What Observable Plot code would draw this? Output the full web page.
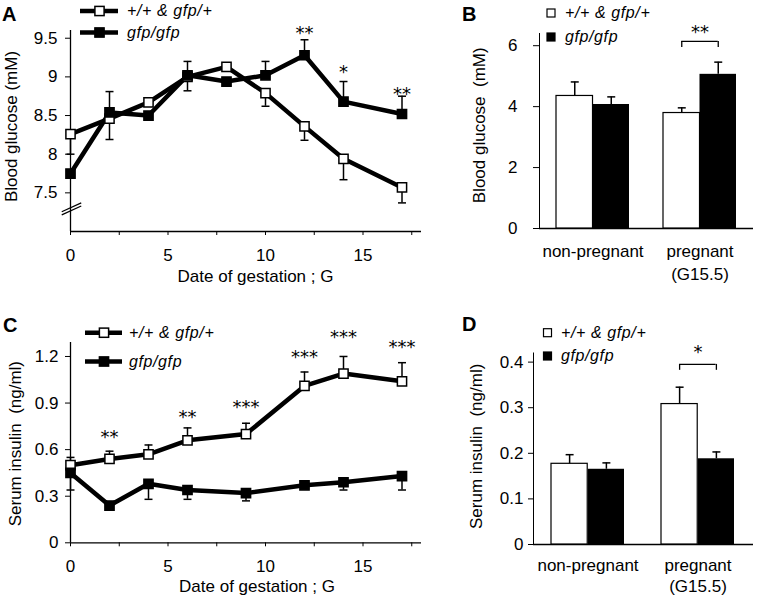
<!DOCTYPE html>
<html><head><meta charset="utf-8">
<script src="https://cdn.jsdelivr.net/npm/d3@7"></script>
<script src="https://cdn.jsdelivr.net/npm/@observablehq/plot@0.6"></script>
<style>
html,body{margin:0;padding:0;background:#fff;}
#fig{position:relative;width:758px;height:599px;overflow:hidden;background:#fff;}
.panel{position:absolute;}
#overlay{position:absolute;left:0;top:0;pointer-events:none;}
</style></head><body><div id="fig"></div>
<script>
// ---------- data ----------
const legendLabels = ["+/+ & gfp/+", "gfp/gfp"];
const panelLetters = ["A", "B", "C", "D"];

// Panel A: blood glucose (mM) over gestation
const glucoseDays = [0, 2, 4, 6, 8, 10, 12, 14, 17];
const glucoseWt = [8.26, 8.46, 8.67, 9.00, 9.13, 8.79, 8.36, 7.94, 7.57];
const glucoseWtErr = [0.26, 0.27, 0.04, 0.18, 0.03, 0.17, 0.18, 0.27, 0.20];   // drawn downward
const glucoseKo = [7.75, 8.54, 8.50, 9.02, 8.94, 9.02, 9.28, 8.68, 8.52];
const glucoseKoErr = [0.04, 0.27, 0.04, 0.18, 0.04, 0.18, 0.20, 0.26, 0.23];   // drawn upward
const glucoseStarDays = [12, 14, 17];
const glucoseStarLevels = [9.62, 9.12, 8.84];
const glucoseStarLabels = ["**", "*", "**"];
const glucoseTicks = [7.5, 8, 8.5, 9, 9.5];
const glucoseBreak = [
  {x1: -0.45, y1: 7.255, x2: 0.55, y2: 7.37},
  {x1: -0.45, y1: 7.215, x2: 0.55, y2: 7.33}
];

// Panel C: serum insulin (ng/ml) over gestation
const insulinDays = [0, 2, 4, 6, 9, 12, 14, 17];
const insulinWt = [0.50, 0.54, 0.57, 0.66, 0.70, 1.01, 1.09, 1.04];
const insulinWtErr = [0.05, 0.05, 0.06, 0.08, 0.07, 0.09, 0.11, 0.12];          // drawn upward
const insulinKo = [0.45, 0.24, 0.38, 0.34, 0.32, 0.37, 0.39, 0.43];
const insulinKoErr = [0.11, 0.00, 0.10, 0.06, 0.05, 0.02, 0.05, 0.09];          // drawn downward
const insulinStarDays = [2, 6, 9, 12, 14, 17];
const insulinStarLevels = [0.711, 0.84, 0.904, 1.226, 1.354, 1.29];
const insulinStarLabels = ["**", "**", "***", "***", "***", "***"];
const insulinTicks = [0, 0.3, 0.6, 0.9, 1.2];

const dayTicks = [0, 2.5, 5, 7.5, 10, 12.5, 15, 17.5];

// Panels B and D: groups
const groups = ["non-pregnant", "pregnant"];
const groupLine1 = ["non-pregnant", "pregnant"];
const groupLine2 = ["", "(G15.5)"];

const bgWt = [4.35, 3.79];
const bgWtErr = [0.46, 0.17];
const bgKo = [4.07, 5.06];
const bgKoErr = [0.25, 0.40];
const bgTicks = [0, 2, 4, 6];
const bgBracket = {group: "pregnant", top: 6.14, foot: 5.94, star: 6.6, label: "**"};

const insWt = [0.177, 0.308];
const insWtErr = [0.020, 0.037];
const insKo = [0.165, 0.188];
const insKoErr = [0.014, 0.015];
const insTicks = [0, 0.1, 0.2, 0.3, 0.4];
const insBracket = {group: "pregnant", top: 0.395, foot: 0.382, star: 0.431, label: "*"};

// ---------- drawing ----------
const FONT = "'Liberation Sans', Arial, Helvetica, sans-serif";
const STAR_FONT = "'DejaVu Sans', 'Liberation Sans', sans-serif";
const capSymbol = {draw(ctx, size) { const w = Math.sqrt(size) / 2; ctx.moveTo(-w, 0); ctx.lineTo(w, 0); }};
const baseStyle = {fontFamily: FONT, fontSize: "17px", color: "black", background: "transparent", overflow: "visible"};

function linePanel(o) {
  const wtRows = o.days.map((d, i) => ({x: d, y: o.wt[i], e: o.wt[i] + o.wtDir * o.wtErr[i]}));
  const koRows = o.days.map((d, i) => ({x: d, y: o.ko[i], e: o.ko[i] + o.koDir * o.koErr[i]}));
  const errRows = [...wtRows, ...koRows].filter(r => Math.abs(r.e - r.y) > 1e-9);
  const [mt, mr, mb, ml] = o.margin;
  return Plot.plot({
    width: o.width, height: o.height,
    marginTop: mt, marginRight: mr, marginBottom: mb, marginLeft: ml,
    style: baseStyle,
    x: {domain: o.xDomain, ticks: dayTicks, tickSize: 4, tickPadding: 13,
        tickFormat: d => (d % 5 === 0 ? String(d) : ""), label: null},
    y: {domain: o.yDomain, ticks: o.yTicks, tickSize: 5, tickPadding: o.yTickPadding,
        tickFormat: d => String(d), label: null},
    marks: [
      Plot.ruleX([o.xDomain[0]], {strokeWidth: 1.3}),
      Plot.ruleY([o.yDomain[0]], {strokeWidth: 1.3}),
      o.breaks ? Plot.link(o.breaks, {x1: "x1", y1: "y1", x2: "x2", y2: "y2", strokeWidth: 1.2}) : null,
      Plot.ruleX(errRows, {x: "x", y1: "y", y2: "e", strokeWidth: 1.5}),
      Plot.dot(errRows, {x: "x", y: "e", symbol: capSymbol, r: 4.5, stroke: "black", strokeWidth: 1.5, fill: "none"}),
      Plot.line(wtRows, {x: "x", y: "y", stroke: "black", strokeWidth: 4.5}),
      Plot.line(koRows, {x: "x", y: "y", stroke: "black", strokeWidth: 4.5}),
      Plot.dot(wtRows, {x: "x", y: "y", symbol: "square", r: 5.2, fill: "white", stroke: "black", strokeWidth: 1.5}),
      Plot.dot(koRows, {x: "x", y: "y", symbol: "square", r: 5.2, fill: "black", stroke: "black", strokeWidth: 1.5}),
      Plot.text(o.starLabels, {x: o.starDays, y: o.starLevels, text: o.starLabels,
        fontFamily: STAR_FONT, fontSize: 18, dy: 4.6, fill: "black"}),
      Plot.text([o.yLabel], {frameAnchor: "left", textAnchor: "middle", lineAnchor: "middle",
        rotate: -90, dx: o.yLabelDx, dy: o.yLabelDy, fontSize: 17}),
      Plot.text([o.xLabel], {frameAnchor: "bottom", textAnchor: "middle", lineAnchor: "middle",
        dx: o.xLabelDx, dy: o.xLabelDy, fontSize: 17})
    ]
  });
}

function barPanel(o) {
  const [mt, mr, mb, ml] = o.margin;
  const n = o.groups.length;
  const frameW = o.width - ml - mr;
  const step = frameW / (n - o.pInner + 2 * o.pOuter);
  const bw = step * (1 - o.pInner);
  const q = bw / 4;
  const wtRows = o.groups.map((g, i) => ({g, v: o.wt[i], e: o.wt[i] + o.wtErr[i]}));
  const koRows = o.groups.map((g, i) => ({g, v: o.ko[i], e: o.ko[i] + o.koErr[i]}));
  const br = [o.bracket];
  return Plot.plot({
    width: o.width, height: o.height,
    marginTop: mt, marginRight: mr, marginBottom: mb, marginLeft: ml,
    style: baseStyle,
    x: {type: "band", domain: o.groups, paddingInner: o.pInner, paddingOuter: o.pOuter, axis: null},
    y: {domain: o.yDomain, ticks: o.yTicks, tickSize: o.yTickSize, tickPadding: o.yTickPadding,
        tickFormat: d => String(d), label: null, line: true},
    marks: [
      Plot.ruleY([0], {strokeWidth: 1.3}),
      Plot.barY(wtRows, {x: "g", y: "v", fill: "white", stroke: "black", strokeWidth: 1.2, insetRight: bw / 2}),
      Plot.barY(koRows, {x: "g", y: "v", fill: "black", insetLeft: bw / 2}),
      Plot.ruleX(wtRows, {x: "g", y1: "v", y2: "e", dx: -q, strokeWidth: 1.5}),
      Plot.ruleX(koRows, {x: "g", y1: "v", y2: "e", dx: q, strokeWidth: 1.5}),
      Plot.dot(wtRows, {x: "g", y: "e", dx: -q, symbol: capSymbol, r: 4.5, stroke: "black", strokeWidth: 1.5, fill: "none"}),
      Plot.dot(koRows, {x: "g", y: "e", dx: q, symbol: capSymbol, r: 4.5, stroke: "black", strokeWidth: 1.5, fill: "none"}),
      Plot.ruleY(br, {x1: "group", x2: "group", y: "top", insetLeft: q, insetRight: q, strokeWidth: 1.3}),
      Plot.ruleX(br, {x: "group", y1: "foot", y2: "top", dx: -q, strokeWidth: 1.3}),
      Plot.ruleX(br, {x: "group", y1: "foot", y2: "top", dx: q, strokeWidth: 1.3}),
      Plot.text(br, {x: "group", y: "star", text: "label", fontFamily: STAR_FONT, fontSize: 18, dy: 4.6, fill: "black"}),
      Plot.text(o.groups, {x: o.groups, text: groupLine1, frameAnchor: "bottom", textAnchor: "middle", lineAnchor: "top", dy: o.catDy1, fontSize: 17}),
      Plot.text(o.groups, {x: o.groups, text: groupLine2, frameAnchor: "bottom", textAnchor: "middle", lineAnchor: "top", dy: o.catDy2, fontSize: 17}),
      Plot.text([o.yLabel], {frameAnchor: "left", textAnchor: "middle", lineAnchor: "middle",
        rotate: -90, dx: o.yLabelDx, dy: o.yLabelDy, fontSize: 17})
    ]
  });
}

const fig = document.getElementById("fig");
function place(node, left, top) {
  const d = document.createElement("div");
  d.className = "panel"; d.style.left = left + "px"; d.style.top = top + "px";
  d.appendChild(node); fig.appendChild(d);
}

place(linePanel({
  width: 470, height: 290, margin: [30, 49, 59, 70],
  xDomain: [0, 18], yDomain: [7, 9.6], yTicks: glucoseTicks, yTickPadding: 8,
  days: glucoseDays, wt: glucoseWt, wtErr: glucoseWtErr, wtDir: -1,
  ko: glucoseKo, koErr: glucoseKoErr, koDir: 1,
  starDays: glucoseStarDays, starLevels: glucoseStarLevels, starLabels: glucoseStarLabels,
  breaks: glucoseBreak,
  yLabel: "Blood glucose (mM)", yLabelDx: -59, yLabelDy: -4.5,
  xLabel: "Date of gestation ; G", xLabelDx: 9.5, xLabelDy: 45
}), 0, 0);

place(linePanel({
  width: 470, height: 309, margin: [52, 49, 56.7, 70],
  xDomain: [0, 18], yDomain: [0, 1.29], yTicks: insulinTicks, yTickPadding: 7,
  days: insulinDays, wt: insulinWt, wtErr: insulinWtErr, wtDir: 1,
  ko: insulinKo, koErr: insulinKoErr, koDir: -1,
  starDays: insulinStarDays, starLevels: insulinStarLevels, starLabels: insulinStarLabels,
  breaks: null,
  yLabel: "Serum insulin\u00a0 (ng/ml)", yLabelDx: -55, yLabelDy: 1,
  xLabel: "Date of gestation ; G", xLabelDx: 11, xLabelDy: 43.7
}), 0, 290);

place(barPanel({
  width: 288, height: 290, margin: [33, 5, 62, 69], pInner: 0.318, pOuter: 0.159,
  groups, yDomain: [0, 6.4], yTicks: bgTicks, yTickSize: 6, yTickPadding: 16,
  wt: bgWt, wtErr: bgWtErr, ko: bgKo, koErr: bgKoErr, bracket: bgBracket,
  catDy1: 16.6, catDy2: 39,
  yLabel: "Blood glucose\u00a0 (mM)", yLabelDx: -60, yLabelDy: -5.7
}), 470, 0);

place(barPanel({
  width: 288, height: 309, margin: [62.5, 5, 55, 63], pInner: 0.333, pOuter: 0.164,
  groups, yDomain: [0, 0.42], yTicks: insTicks, yTickSize: 5, yTickPadding: 5,
  wt: insWt, wtErr: insWtErr, ko: insKo, koErr: insKoErr, bracket: insBracket,
  catDy1: 14, catDy2: 35.6,
  yLabel: "Serum insulin\u00a0 (ng/ml)", yLabelDx: -57, yLabelDy: -2.4
}), 470, 290);

// ---------- legends and panel letters ----------
const svg = d3.select(fig).append("svg").attr("id", "overlay")
  .attr("width", 758).attr("height", 599);

function lineLegend(x0, x1, xm, xt, ys) {
  ys.forEach((y, i) => {
    svg.append("line").attr("x1", x0).attr("x2", x1).attr("y1", y).attr("y2", y)
      .attr("stroke", "black").attr("stroke-width", 4.5);
    svg.append("rect").attr("x", xm - 4.6).attr("y", y - 4.6).attr("width", 9.2).attr("height", 9.2)
      .attr("fill", i === 0 ? "white" : "black").attr("stroke", "black").attr("stroke-width", 1.5);
    svg.append("text").attr("x", xt).attr("y", y + 5).text(legendLabels[i])
      .attr("font-family", FONT).attr("font-style", "italic").attr("font-size", 16)
      .attr("letter-spacing", 0.6);
  });
}
function boxLegend(xm, xt, ys) {
  ys.forEach((y, i) => {
    svg.append("rect").attr("x", xm - 4).attr("y", y - 4).attr("width", 8).attr("height", 8)
      .attr("fill", i === 0 ? "white" : "black").attr("stroke", "black").attr("stroke-width", 1.2);
    svg.append("text").attr("x", xt).attr("y", y + 5).text(legendLabels[i])
      .attr("font-family", FONT).attr("font-style", "italic").attr("font-size", 16)
      .attr("letter-spacing", 0.6);
  });
}
lineLegend(80, 118, 99.5, 127, [11, 32.5]);
lineLegend(85, 122, 104, 129, [332.7, 361.5]);
boxLegend(551, 565, [13, 37]);
boxLegend(547.5, 561, [332.7, 356]);

const letterPos = [[2, 21], [462, 21], [3, 332], [462, 331]];
panelLetters.forEach((L, i) => {
  svg.append("text").attr("x", letterPos[i][0]).attr("y", letterPos[i][1]).text(L)
    .attr("font-family", FONT).attr("font-weight", "bold").attr("font-size", 20);
});
</script></body></html>
